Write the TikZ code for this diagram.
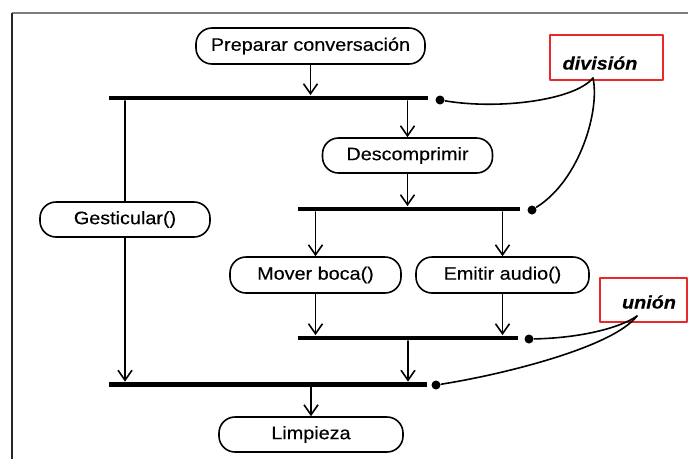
\documentclass[tikz,border=0pt]{standalone}
\usepackage{fontspec}
\setmainfont[FakeStretch=1.1,FakeBold=0.3]{Liberation Sans}
\usepackage{tikz}
\usetikzlibrary{shapes,arrows}
\usetikzlibrary{arrows.meta}
\usetikzlibrary{calc}
\usetikzlibrary{positioning}

\definecolor{notered}{RGB}{235,40,40}
\definecolor{framegray}{RGB}{125,125,125}

\tikzstyle{every node}=[font=\fontsize{18}{20}\selectfont]
\tikzstyle{every path}=[line width=1.6pt,line cap=round,line join=round]
\tikzstyle{activity}=[draw, rectangle, rounded corners=16pt, inner sep=0pt]
\tikzstyle{bar}=[fill=black, inner sep=0pt, minimum height=4.2pt]
\tikzstyle{dot}=[circle, fill=black, inner sep=0pt, minimum size=9pt]
\tikzstyle{flow}=[-{Straight Barb[length=10pt,width=14pt]}]
\tikzstyle{notebox}=[draw=notered, line width=1.1pt, inner sep=0pt]
\tikzstyle{notetext}=[font=\fontsize{18}{20}\selectfont\bfseries\itshape]

\begin{document}
\begin{tikzpicture}[x=1pt,y=-1pt]
\useasboundingbox (0,0) rectangle (688,459);

% marco
\draw[framegray, line width=2.4pt, line cap=butt] (12,13) -- (688,13);
\draw[black!85, line width=1.6pt, line cap=butt] (12,13) -- (12,459);

% actividades
\node[activity, minimum width=229pt, minimum height=36pt] (prep) at (310.5,46) {Preparar conversación};
\node[activity, minimum width=170pt, minimum height=35pt] (desc) at (407.5,155.5) {Descomprimir};
\node[activity, minimum width=170pt, minimum height=35pt] (gest) at (125,219.5) {Gesticular()};
\node[activity, minimum width=171pt, minimum height=36pt] (mover) at (315.5,275) {Mover boca()};
\node[activity, minimum width=173pt, minimum height=36pt] (emitir) at (502.5,275) {Emitir audio()};
\node[activity, minimum width=184pt, minimum height=35pt] (limp) at (311,434.5) {Limpieza};

% barras
\node[bar, minimum width=319pt] (fork1) at (268.5,98) {};
\node[bar, minimum width=222pt] (fork2) at (409,209) {};
\node[bar, minimum width=220pt] (join1) at (408,338) {};
\node[bar, minimum width=318pt] (join2) at (268,384.5) {};

\node[dot] (d1) at (440,100) {};
\node[dot] (d2) at (532,210) {};
\node[dot] (d3) at (529,339) {};
\node[dot] (d4) at (436,385) {};

% flujo
\draw[flow] (prep) -- (prep |- fork1.north);
\draw (gest |- fork1.south) -- (gest);
\draw[flow] (gest) -- (gest |- join2.north);
\draw[flow] (desc |- fork1.south) -- (desc);
\draw[flow] (desc) -- (desc |- fork2.north);
\draw[flow] (mover |- fork2.south) -- (mover);
\draw[flow] (emitir |- fork2.south) -- (emitir);
\draw[flow] (mover) -- (mover |- join1.north);
\draw[flow] (emitir) -- (emitir |- join1.north);
\draw[flow] (join1) -- (join1 |- join2.north);
\draw[flow] (limp |- join2.south) -- (limp);

% notas
\node[notebox, minimum width=113pt, minimum height=45pt] (divbox) at (606.5,57.5) {};
\node[notetext] (divtxt) at (600,63) {división};
\coordinate (divpt) at (593,78);
\draw (d1) .. controls (500,110) and (575,100) .. (divpt);
\draw (divpt) .. controls (600,110) and (580,180) .. (d2);

\node[notebox, minimum width=87pt, minimum height=44pt] (unibox) at (643.5,300) {};
\node[notetext] (unitxt) at (649,302) {unión};
\coordinate (unipt) at (637,316);
\draw (d3) .. controls (580,338) and (620,328) .. (unipt);
\draw (d4) .. controls (500,375) and (612,348) .. (unipt);
\end{tikzpicture}
\end{document}
